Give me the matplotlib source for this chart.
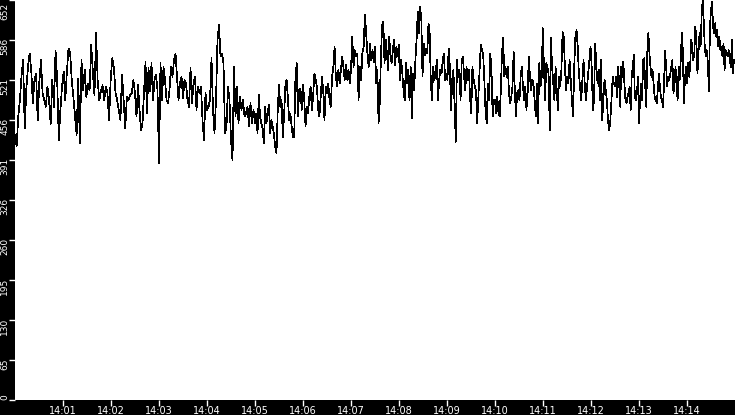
import numpy as np
import pandas as pd
import matplotlib
matplotlib.use("Agg")
import matplotlib.pyplot as plt
import matplotlib.dates as mdates
import matplotlib.transforms as mtransforms

plt.rcParams['font.family'] = ['Liberation Sans Narrow', 'DejaVu Sans Condensed', 'DejaVu Sans']

# samples, one list per 2.5 minute stretch
seg_1400 = [432, 413, 462, 489, 527, 554, 443, 508, 543, 565, 538, 484, 522, 532, 456, 519,
            554, 500, 489, 478, 511, 489, 450, 522, 478, 570, 522, 424, 473, 511, 535, 489,
            535, 573, 565, 522, 494, 462, 432, 524, 418, 554, 505, 538, 494, 516, 505, 579,
            535, 497, 598, 519, 489, 503, 513, 489, 511, 500, 456, 522, 557, 541, 500, 489,
            473, 456, 530, 489, 443, 494, 489, 497, 500, 522]
seg_1402 = [500, 462, 513, 473, 440, 451, 500, 551, 467, 541, 503, 549, 489, 522, 530, 505,
            386, 549, 489, 543, 522, 489, 484, 505, 543, 527, 554, 565, 527, 489, 516, 527,
            492, 522, 516, 489, 478, 541, 484, 516, 527, 473, 511, 500, 511, 456, 424, 500,
            473, 478, 489, 557, 473, 435, 489, 587, 611, 560, 565, 549, 435, 446, 511, 489,
            424, 391, 543, 462, 511, 451, 494, 473, 489, 462, 467, 478, 446, 484, 451, 473]
seg_1405 = [451, 467, 435, 497, 462, 451, 443, 418, 478, 451, 467, 481, 435, 456, 446, 432,
            413, 402, 473, 513, 478, 489, 429, 462, 511, 522, 494, 456, 467, 446, 429, 429,
            524, 549, 462, 505, 508, 473, 513, 489, 446, 478, 467, 494, 511, 473, 494, 532,
            522, 511, 473, 462, 494, 527, 505, 456, 511, 500, 516, 489, 478, 527, 543, 576,
            527, 511, 538, 516, 538, 560, 543, 522, 546, 522, 538, 516, 538, 592, 543, 570,
            560, 565, 489, 543, 522, 565, 576, 628, 598, 565, 543, 581, 554, 570, 551]
seg_1407 = [576, 516, 538, 451, 484, 560, 611, 617, 549, 587, 565, 538, 592, 560, 549, 570,
            587, 546, 576, 560, 579, 522, 554, 532, 505, 489, 549, 516, 538, 489, 543, 459,
            532, 505, 554, 587, 633, 598, 641, 619, 527, 581, 562, 573, 565, 614, 598, 516,
            489, 543, 522, 532, 554, 489, 522, 538, 532, 554, 565, 522, 532, 522, 573, 543,
            473, 522, 538, 478, 421, 554, 527, 538, 489, 554, 560, 527, 505, 543, 522, 538,
            494, 467, 543, 522, 511, 505, 451, 494, 538, 579, 570, 565, 522, 473, 451, 516,
            489, 565, 543, 462, 489]
seg_1410 = [489, 467, 494, 467, 462, 505, 565, 590, 527, 543, 527, 543, 500, 484, 494, 511,
            568, 505, 462, 500, 505, 489, 527, 543, 511, 489, 511, 473, 500, 560, 527, 505,
            522, 516, 489, 462, 516, 451, 549, 511, 522, 606, 543, 489, 549, 543, 532, 440,
            590, 543, 516, 489, 543, 505, 473, 527, 511, 538, 600, 592, 543, 505, 527, 516,
            554, 522, 489, 462, 543, 592, 603, 576, 532, 511, 489, 522, 554, 516, 489, 511,
            532, 554, 576, 543, 473, 489, 581, 543, 516, 538, 489, 554, 456, 489, 522, 505,
            489, 456, 440, 456, 489, 527, 516]
seg_1412 = [511, 527, 494, 543, 516, 478, 543, 527, 551, 516, 489, 484, 494, 500, 511, 473,
            527, 543, 562, 494, 489, 500, 527, 451, 489, 516, 489, 554, 557, 511, 478, 568,
            598, 565, 543, 527, 538, 516, 494, 489, 484, 505, 532, 511, 494, 489, 478, 516,
            570, 543, 511, 527, 522, 532, 543, 554, 500, 516, 543, 511, 489, 543, 522, 554,
            598, 570, 484, 522, 543, 516, 549, 527, 543, 587, 576, 554, 565, 609, 587, 532,
            565, 598, 576, 625, 652, 619, 576, 560, 570, 549, 503, 609, 636, 649, 609, 598,
            614, 592, 603, 576, 592, 570, 576, 560, 581, 538, 570, 565, 560, 570, 554, 543,
            587, 532, 554]

seg_starts = ["14:00:00", "14:02:30", "14:05:00", "14:07:30", "14:10:00", "14:12:30"]
segments = [seg_1400, seg_1402, seg_1405, seg_1407, seg_1410, seg_1412]

times = []
values = []
for start, seg in zip(seg_starts, segments):
    t0 = pd.Timestamp("2024-01-01 " + start)
    step = 150.0 / len(seg)
    times += [t0 + pd.Timedelta(seconds=i * step) for i in range(len(seg))]
    values += seg

ymax = max(values)

fig = plt.figure(figsize=(7.35, 4.15), dpi=100, facecolor="black")
ax = fig.add_axes([15 / 735, 15 / 415, 720 / 735, 400 / 415])
ax.set_facecolor("white")
ax.plot(times, values, color="black", lw=0.5, antialiased=False)

ax.set_xlim(pd.Timestamp("2024-01-01 14:00:00"), pd.Timestamp("2024-01-01 14:15:00"))
ax.set_ylim(0, ymax)

ax.xaxis.set_major_locator(mdates.MinuteLocator(byminute=range(1, 15)))
ax.xaxis.set_major_formatter(mdates.DateFormatter("%H:%M"))

yt = np.linspace(0, ymax, 11)
ax.set_yticks(yt)
ax.set_yticklabels([str(int(v)) for v in yt], rotation=90)

ax.tick_params(colors="white", labelcolor="white", width=1)
ax.tick_params(axis="x", length=4, pad=0, labelsize=7)
ax.tick_params(axis="y", length=4, pad=0, labelsize=6.5)
for s in ax.spines.values():
    s.set_visible(False)

# rotated y labels hang below their tick, the zero label sits above it
ylabels = ax.get_yticklabels()
for i, lab in enumerate(ylabels):
    if i == 0:
        lab.set_va("bottom")
        continue
    lab.set_va("top")
    dy = 2 if i < len(ylabels) - 1 else -3
    lab.set_transform(lab.get_transform()
                      + mtransforms.ScaledTranslation(0, dy / 100, fig.dpi_scale_trans))

plt.savefig("out.png", dpi=100, facecolor="black")
